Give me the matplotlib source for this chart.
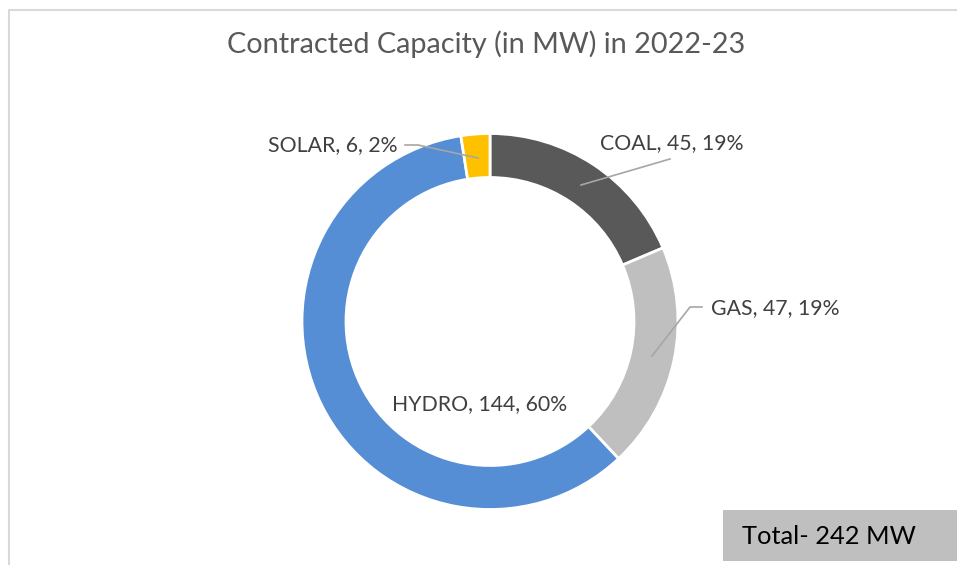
import matplotlib
matplotlib.use("Agg")
import matplotlib.pyplot as plt
from matplotlib.patches import Rectangle

categories = ["COAL", "GAS", "HYDRO", "SOLAR"]
values = [45, 47, 144, 6]
percents = ["19%", "19%", "60%", "2%"]
colors = ["#595959", "#BFBFBF", "#558ED5", "#FFC000"]
title = "Contracted Capacity (in MW) in 2022-23"
total_label = "Total- 242 MW"

W, H = 957, 565
fig = plt.figure(figsize=(W / 100, H / 100), dpi=100)
ax = fig.add_axes([0, 0, 1, 1])
ax.set_xlim(0, W)
ax.set_ylim(0, H)
ax.axis("off")
plt.rcParams["font.family"] = ["Lato", "DejaVu Sans"]

def Y(py):
    return H - py

# frame
ax.plot([9, 9, W + 5], [Y(H + 5), Y(10), Y(10)], color="#D9D9D9", lw=1.5, solid_capstyle="butt")

cx, cy, r = 490, 321.5, 188
ax.pie(values, colors=colors, startangle=90, counterclock=False,
       center=(cx, Y(cy)), radius=r, frame=True,
       wedgeprops=dict(width=44, edgecolor="white", linewidth=2))
ax.set_xlim(0, W)
ax.set_ylim(0, H)
ax.axis("off")

ax.text(486, Y(44), title, ha="center", va="center", fontsize=20.8, color="#595959")

lab = [f"{c}, {v}, {p}" for c, v, p in zip(categories, values, percents)]
lc = "#A6A6A6"
tc = "#404040"
fs = 15.3
# COAL
ax.text(600, Y(143), lab[0], ha="left", va="center", fontsize=fs, color=tc)
ax.plot([581, 670], [Y(185), Y(159)], color=lc, lw=1.2)
# GAS
ax.text(711, Y(308), lab[1], ha="left", va="center", fontsize=fs, color=tc)
ax.plot([652, 690, 702], [Y(356), Y(307), Y(307)], color=lc, lw=1.2)
# HYDRO
ax.text(480, Y(404), lab[2], ha="center", va="center", fontsize=fs, color=tc)
# SOLAR
ax.text(398, Y(145), lab[3], ha="right", va="center", fontsize=fs, color=tc)
ax.plot([405, 418, 478], [Y(145), Y(145), Y(158)], color=lc, lw=1.2)

# total box
ax.add_patch(Rectangle((723, Y(561)), W - 723 + 5, 51, facecolor="#BFBFBF", edgecolor="none"))
ax.text(742, Y(537), total_label, ha="left", va="center", fontsize=18.3, color="#000000")

fig.savefig("out.png", dpi=100)
